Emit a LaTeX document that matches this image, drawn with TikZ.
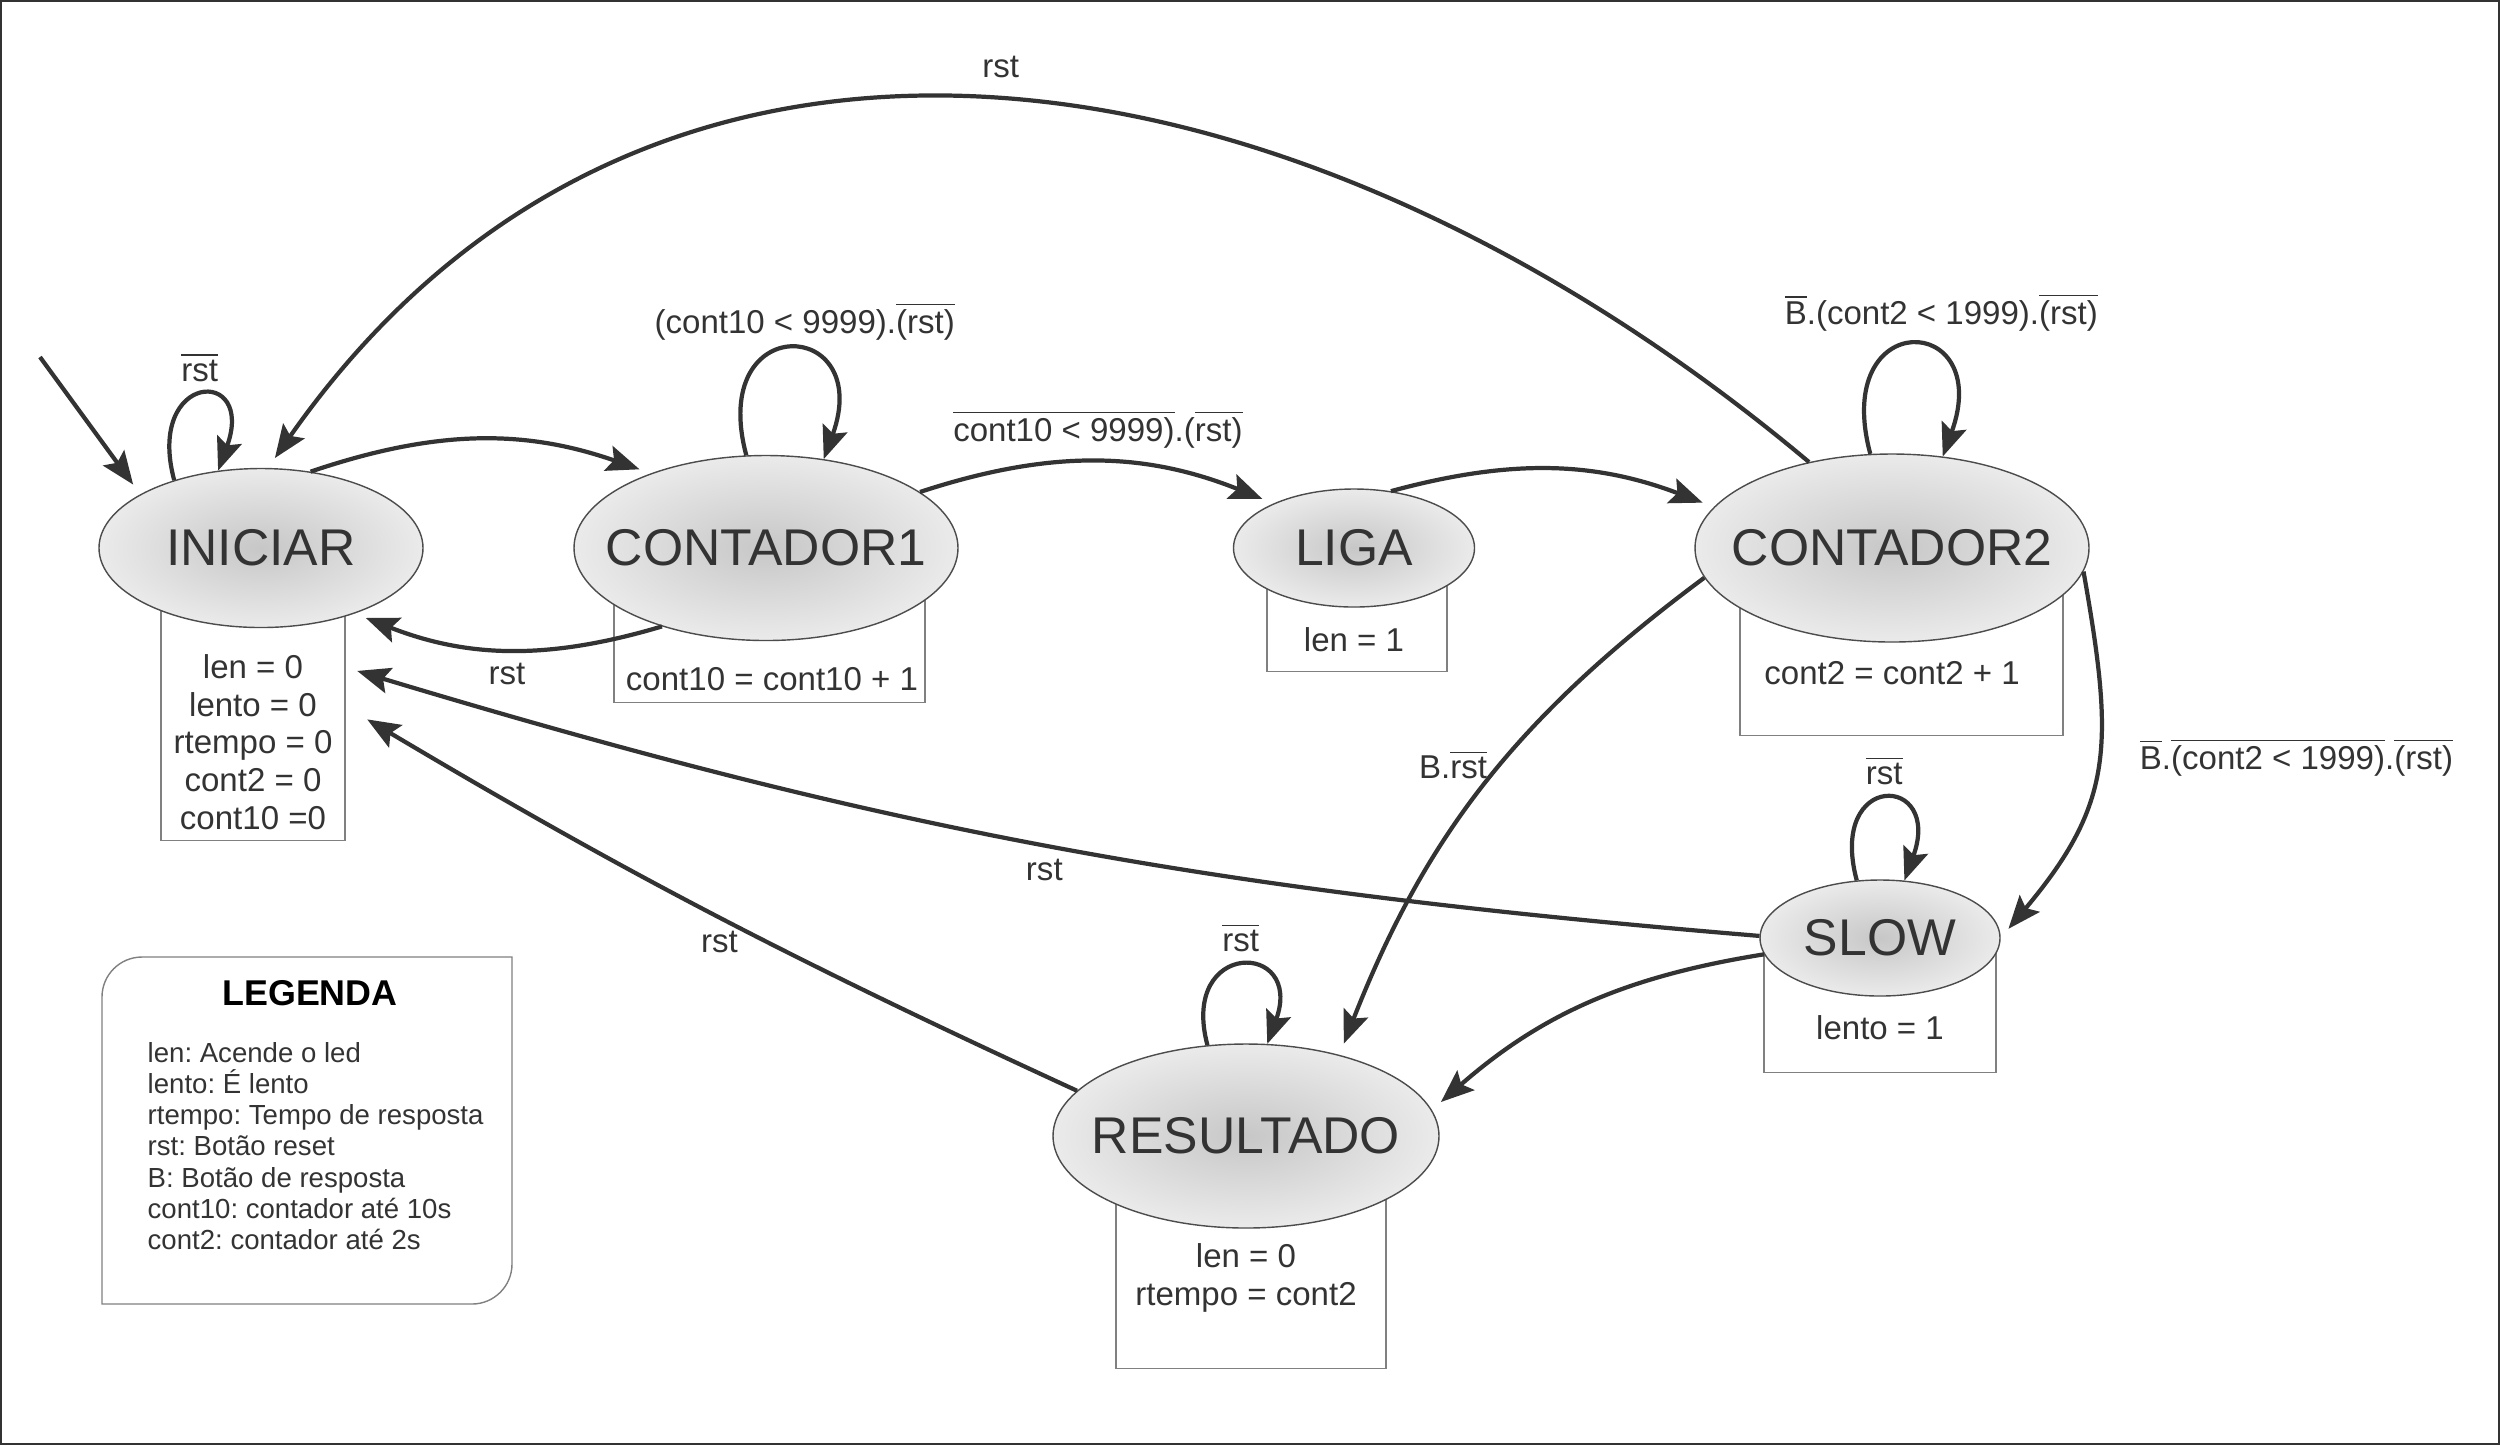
\documentclass[tikz,border=0pt]{standalone}
\usepackage{fontspec}
\setmainfont{Liberation Sans}
\usetikzlibrary{positioning,shapes.geometric,arrows.meta,backgrounds}
\newcommand{\barra}[1]{$\overline{\mbox{#1}}$}
\newcommand{\est}[1]{\makebox[0pt]{#1}}
\frenchspacing

\tikzset{
  state/.style={ellipse, draw=black!70, line width=0.4pt, inner color=black!22, outer color=black!8,
    text=black!80, font=\fontsize{14.7}{17}\selectfont, inner sep=0pt},
  actbox/.style={draw=black!50, line width=0.4pt, fill=white, inner sep=0pt, anchor=north},
  acttxt/.style={text=black!80, font=\fontsize{9.4}{10.7}\selectfont, align=center, inner sep=0pt},
  lbl/.style={text=black!80, font=\fontsize{9.4}{11}\selectfont},
  legtxt/.style={text=black!80, font=\fontsize{7.85}{8.9}\selectfont, inner sep=0pt},
  arr/.style={-{Stealth[length=3.3mm,width=2.6mm,inset=0.6mm]}, line width=1.2pt, draw=black!80, shorten >=1.2mm},
  laco/.style={arr, shorten >=0pt},
}

\begin{document}
\begin{tikzpicture}
      \useasboundingbox (0,0) rectangle (25,-14.45);
      \draw[black!80, line width=0.6pt] (0.01,-0.01) rectangle (24.99,-14.44);

      % estados
      \node[state, minimum width=3.24cm, minimum height=1.59cm] (ini) at (2.61,-5.48) {\est{INICIAR}};
      \node[state, minimum width=3.84cm, minimum height=1.85cm, right of=ini, xshift=4.05cm] (c1) {\est{CONTADOR1}};
      \node[state, minimum width=2.41cm, minimum height=1.18cm, right of=c1, xshift=4.88cm] (liga) {\est{LIGA}};
      \node[state, minimum width=3.94cm, minimum height=1.88cm, right of=liga, xshift=4.38cm] (c2) {\est{CONTADOR2}};
      \node[state, minimum width=2.40cm, minimum height=1.16cm, below of=c2, yshift=-2.90cm, xshift=-0.12cm] (slow) {\est{SLOW}};
      \node[state, minimum width=3.86cm, minimum height=1.84cm, below of=liga, yshift=-4.88cm, xshift=-1.08cm] (res) {\est{RESULTADO}};

      % caixas de saida
      \begin{scope}[on background layer]
        \node[actbox, minimum width=1.84cm, minimum height=2.52cm] (inibox) at ([xshift=-0.08cm,yshift=-0.40cm]ini.center) {};
        \node[actbox, minimum width=3.11cm, minimum height=1.14cm] (c1box) at ([xshift=0.035cm,yshift=-0.40cm]c1.center) {};
        \node[actbox, minimum width=1.80cm, minimum height=0.98cm] (ligabox) at ([xshift=0.03cm,yshift=-0.25cm]liga.center) {};
        \node[actbox, minimum width=3.23cm, minimum height=1.52cm] (c2box) at ([xshift=0.095cm,yshift=-0.35cm]c2.center) {};
        \node[actbox, minimum width=2.32cm, minimum height=1.29cm] (slowbox) at ([yshift=-0.05cm]slow.center) {};
        \node[actbox, minimum width=2.70cm, minimum height=1.92cm] (resbox) at ([xshift=0.05cm,yshift=-0.40cm]res.center) {};
      \end{scope}

      \node[acttxt, below of=ini, xshift=-0.08cm, yshift=-0.94cm] (initxt) {len = 0\\lento = 0\\rtempo = 0\\cont2 = 0\\cont10 =0};
      \node[acttxt, below of=c1, xshift=0.06cm, yshift=-0.31cm] (c1txt) {cont10 = cont10 + 1};
      \node[acttxt, below of=liga, yshift=0.08cm] (ligatxt) {len = 1};
      \node[acttxt, below of=c2, yshift=-0.25cm] (c2txt) {cont2 = cont2 + 1};
      \node[acttxt, below of=slow, yshift=0.10cm] (slowtxt) {lento = 1};
      \node[acttxt, below of=res, yshift=-0.42cm] (restxt) {len = 0\\rtempo = cont2};

      % transicoes
      \coordinate (entrada) at (0.40,-3.57);
      \draw[arr] (entrada) -- (ini.156);
      \draw[laco] (ini.142) to[out=105,in=70,distance=1.12cm] node[lbl, above] {\barra{rst}} (ini.119);
      \draw[arr] (ini.57) to[bend left=19] (c1.147);
      \draw[arr] (c1.217) to[bend left=19] node[lbl, below] {rst} (ini.-35);
      \draw[laco] (c1.102) to[out=105,in=70,distance=1.51cm] node[lbl, above, xshift=0.15cm, yshift=-0.05cm] {(cont10 < 9999).\barra{(rst)}} (c1.57);
      \draw[arr] (c1.20) to[bend left=20] node[lbl, above] {\barra{cont10 < 9999)}.(\barra{rst)}} (liga.151);
      \draw[arr] (liga.57) to[bend left=18] (c2.167);
      \draw[laco] (c2.103) to[out=105,in=70,distance=1.54cm] node[lbl, above, xshift=0.3cm] {\barra{B}.(cont2 < 1999).\barra{(rst)}} (c2.61);
      \draw[arr] (c2.134) to[out=140,in=55,looseness=1.1] node[lbl, above, xshift=0.1cm, yshift=0.1cm] {rst} (ini.85);
      \draw[arr] (c2.-7) to[out=-80,in=50,looseness=1.2] node[lbl, right, xshift=0.3cm, yshift=0.12cm] {\barra{B}.\barra{(cont2 < 1999)}.\barra{(rst)}} (slow.0);
      \draw[arr] (c2.189) to[bend right=16] node[lbl, left, pos=0.45] {B.\barra{rst}} (res.41);
      \draw[laco] (slow.112) to[out=105,in=70,distance=1.14cm] node[lbl, above] {\barra{rst}} (slow.67);
      \draw[arr] (slow.179) to[bend left=6] node[lbl, below, pos=0.50] {rst} (inibox.27);
      \draw[arr] (slow.188) to[bend right=16] (res.8);
      \draw[laco] (res.113) to[out=105,in=70,distance=1.10cm] node[lbl, above] {\barra{rst}} (res.77);
      \draw[arr, shorten >=2.5mm] (res.165) to[bend left=3] node[lbl, below=2pt, xshift=0.14cm] {rst} (inibox.5);

      % legenda
      \draw[draw=black!50, line width=0.4pt] (1.02,-13.04) -- (1.02,-9.97) arc[start angle=180, end angle=90, radius=0.4]
        -- (5.12,-9.57) -- (5.12,-12.64) arc[start angle=0, end angle=-90, radius=0.4] -- cycle;
      \node[font=\bfseries\fontsize{10.2}{12}\selectfont] (legtit) at (3.10,-9.93) {LEGENDA};
      \node[legtxt, align=left, anchor=west] (legitens) at (1.47,-11.46) {len: Acende o led\\lento: É lento\\rtempo: Tempo de resposta\\rst: Botão reset\\B: Botão de resposta\\cont10: contador até 10s\\cont2: contador até 2s};
    \end{tikzpicture}
\end{document}
